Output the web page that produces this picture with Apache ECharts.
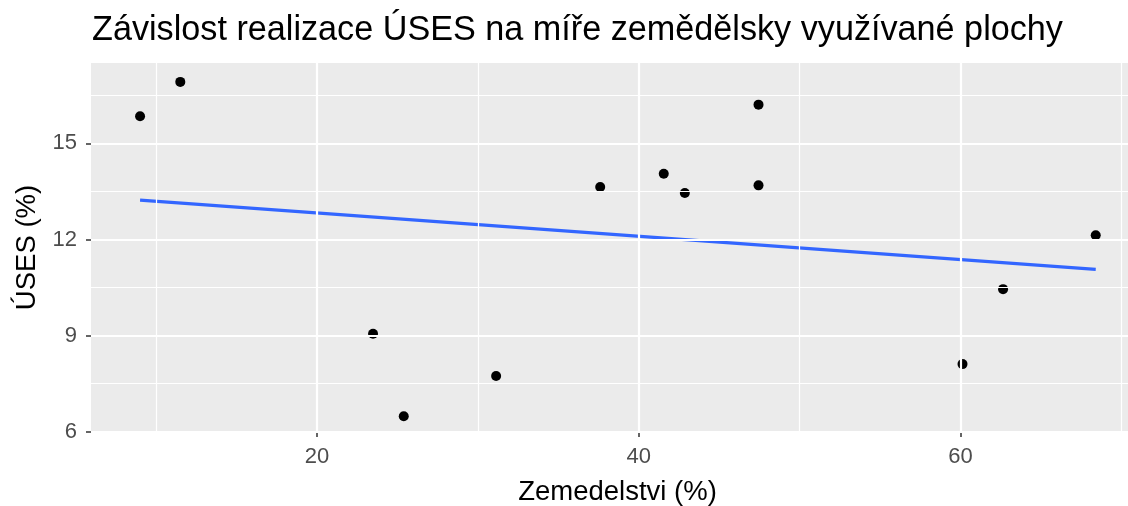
<!DOCTYPE html>
<html><head><meta charset="utf-8">
<script src="https://cdn.jsdelivr.net/npm/echarts@6/dist/echarts.min.js"></script>
<style>html,body{margin:0;padding:0;background:#fff}#c{width:1128px;height:506px}</style>
</head><body><div id="c"></div>
<script>
// Data
const zemedelstvi = [9.0, 11.5, 23.48, 25.39, 31.13, 37.6, 41.55, 42.86, 47.44, 47.44, 60.12, 62.64, 68.4];
const uses        = [15.85, 16.92, 9.06, 6.48, 7.74, 13.64, 14.05, 13.45, 16.21, 13.69, 8.11, 10.45, 12.13];
const trendX = [9.0, 68.4];
const trendY = [13.23, 11.07];
const xTicks = [20, 40, 60];
const yTicks = [6, 9, 12, 15];
const xMinor = [10, 30, 50, 70];
const yMinor = [7.5, 10.5, 13.5, 16.5];
const titleText = 'Závislost realizace ÚSES na míře zemědělsky využívané plochy';
const xName = 'Zemedelstvi (%)';
const yName = 'ÚSES (%)';

const FONT = 'Liberation Sans, Arial, sans-serif';
const points = zemedelstvi.map((x, i) => [x, uses[i]]);
const trend = trendX.map((x, i) => [x, trendY[i]]);

const gridLines = [].concat(
  xMinor.map(v => ({ xAxis: v, lineStyle: { color: '#fff', width: 1.2, type: 'solid' } })),
  yMinor.map(v => ({ yAxis: v, lineStyle: { color: '#fff', width: 1.2, type: 'solid' } })),
  xTicks.map(v => ({ xAxis: v, lineStyle: { color: '#fff', width: 2.2, type: 'solid' } })),
  yTicks.map(v => ({ yAxis: v, lineStyle: { color: '#fff', width: 2.2, type: 'solid' } }))
);

const chart = echarts.init(document.getElementById('c'), null, { renderer: 'canvas' });
chart.setOption({
  animation: false,
  backgroundColor: '#fff',
  textStyle: { fontFamily: FONT },
  title: {
    text: titleText, left: 87, top: 9,
    textStyle: { fontFamily: FONT, fontSize: 34.2, fontWeight: 'normal', color: '#000' }
  },
  grid: {
    left: 91, width: 1053, top: 63, height: 369,
    outerBoundsMode: 'none',
    show: true, backgroundColor: '#EBEBEB', borderWidth: 0, containLabel: false
  },
  xAxis: {
    type: 'value', min: 5.95, max: 71.4,
    axisLine: { show: false },
    axisTick: { show: true, customValues: xTicks, length: 5, lineStyle: { color: '#333', width: 1.5 } },
    axisLabel: { customValues: xTicks, color: '#4D4D4D', fontSize: 22, fontFamily: FONT, margin: 14 },
    splitLine: { show: false },
    name: xName, nameLocation: 'middle', nameGap: 46,
    nameTextStyle: { fontFamily: FONT, fontSize: 27.5, color: '#000' }
  },
  yAxis: {
    type: 'value', min: 5.99, max: 17.51,
    axisLine: { show: false },
    axisTick: { show: true, customValues: yTicks, length: 5, lineStyle: { color: '#333', width: 1.5 } },
    axisLabel: { customValues: yTicks, color: '#4D4D4D', fontSize: 22, fontFamily: FONT, margin: 14 },
    splitLine: { show: false },
    name: yName, nameLocation: 'middle', nameGap: 45,
    nameTextStyle: { fontFamily: FONT, fontSize: 27.5, color: '#000' }
  },
  series: [
    {
      type: 'scatter', data: points, symbolSize: 0, z: 1, silent: true,
      markLine: { silent: true, symbol: ['none', 'none'], label: { show: false }, data: gridLines, animation: false }
    },
    {
      type: 'line', data: trend, showSymbol: false, z: 2,
      lineStyle: { color: '#3366FF', width: 3.2 }
    },
    {
      type: 'scatter', data: points, symbol: 'circle', symbolSize: 10, z: 3,
      itemStyle: { color: '#000', opacity: 1 }
    }
  ]
});
</script></body></html>
